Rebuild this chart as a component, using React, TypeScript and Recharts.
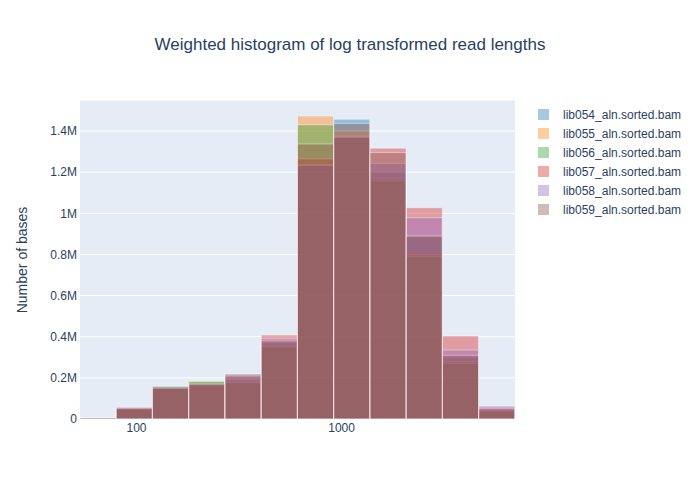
import React from "react";
import {
  BarChart,
  Bar,
  XAxis,
  YAxis,
  CartesianGrid,
  Legend,
} from "recharts";

// lower edge of each bin (read length), bins are equal width in log space
const binStart = [53, 80, 120, 180, 270, 406, 610, 916, 1376, 2067, 3105, 4664];
const binEnd = 7006;

const lib054 = [5000, 56000, 161000, 178000, 190000, 370000, 1230000, 1457000, 1199000, 885000, 300000, 45000];
const lib055 = [4000, 53000, 152000, 180000, 178000, 355000, 1473000, 1400000, 1170000, 800000, 280000, 40000];
const lib056 = [4000, 52000, 158000, 183000, 177000, 352000, 1430000, 1368000, 1158000, 789000, 270000, 38000];
const lib057 = [5000, 55000, 148000, 165000, 205000, 408000, 1265000, 1370000, 1317000, 1027000, 404000, 55000];
const lib058 = [6000, 57000, 150000, 168000, 210000, 390000, 1235000, 1375000, 1243000, 979000, 335000, 63000];
const lib059 = [5000, 50000, 155000, 172000, 219000, 380000, 1337000, 1437000, 1295000, 890000, 310000, 50000];

const xTicks = [100, 1000];
const yTicks = [0, 200000, 400000, 600000, 800000, 1000000, 1200000, 1400000];

const series = [
  { key: "lib054", name: "lib054_aln.sorted.bam", color: "#1f77b4", values: lib054 },
  { key: "lib055", name: "lib055_aln.sorted.bam", color: "#ff7f0e", values: lib055 },
  { key: "lib056", name: "lib056_aln.sorted.bam", color: "#2ca02c", values: lib056 },
  { key: "lib057", name: "lib057_aln.sorted.bam", color: "#d62728", values: lib057 },
  { key: "lib058", name: "lib058_aln.sorted.bam", color: "#9467bd", values: lib058 },
  { key: "lib059", name: "lib059_aln.sorted.bam", color: "#8c564b", values: lib059 },
];

const data = binStart.map((b, i) => {
  const row: Record<string, number> = { bin: b };
  series.forEach((s) => {
    row[s.key] = s.values[i];
  });
  return row;
});

const FONT = "'Liberation Sans', Arial, sans-serif";
const TEXT = "#2a3f5f";

function fmtY(v: number) {
  if (v === 0) return "0";
  return v / 1e6 + "M";
}

function LegendBox() {
  return (
    <div style={{ fontFamily: FONT, fontSize: 12, color: TEXT }}>
      {series.map((s) => (
        <div key={s.key} style={{ display: "flex", alignItems: "center", height: 19 }}>
          <div
            style={{
              marginLeft: 8,
              width: 11,
              height: 11,
              background: s.color,
              opacity: 0.4,
            }}
          />
          <span style={{ marginLeft: 14, whiteSpace: "nowrap" }}>{s.name}</span>
        </div>
      ))}
    </div>
  );
}

export default function App() {
  return (
    <div style={{ position: "absolute", left: 0, top: 0, width: 700, height: 500, background: "#fff" }}>
      <div
        style={{
          position: "absolute",
          left: 0,
          top: 34,
          width: 700,
          textAlign: "center",
          fontFamily: FONT,
          fontSize: 17,
          lineHeight: "22px",
          color: TEXT,
        }}
      >
        Weighted histogram of log transformed read lengths
      </div>
      <BarChart
        width={700}
        height={500}
        data={data}
        margin={{ top: 100, right: 185, bottom: 51, left: 0 }}
        barCategoryGap={0}
        style={{ fontFamily: FONT }}
      >
        {/* visible log axis first, so the hidden category axes don't push it down */}
        <XAxis
          xAxisId="log"
          dataKey="bin"
          type="number"
          scale="log"
          domain={[binStart[0], binEnd]}
          allowDataOverflow
          ticks={xTicks}
          tickLine={false}
          axisLine={false}
          tickSize={0}
          tickMargin={4}
          height={30}
          tick={{ fill: TEXT, fontSize: 12 }}
        />
        {/* one hidden category axis per series so the bars overlay */}
        {series.map((s, i) => (
          <XAxis key={s.key} xAxisId={i} dataKey="bin" type="category" hide height={0} />
        ))}
        <CartesianGrid vertical={false} stroke="#fff" strokeWidth={1} fill="#E5ECF6" fillOpacity={1} />
        <YAxis
          width={80}
          domain={[0, 1551000]}
          ticks={yTicks}
          tickFormatter={fmtY}
          tickLine={false}
          axisLine={false}
          tickSize={0}
          tickMargin={3}
          tick={{ fill: TEXT, fontSize: 12 }}
          label={{
            content: () => (
              <text
                x={22}
                y={260}
                transform="rotate(-90, 22, 260)"
                textAnchor="middle"
                dominantBaseline="central"
                fill={TEXT}
                fontSize={14}
                fontFamily={FONT}
              >
                Number of bases
              </text>
            ),
          }}
        />
        <Legend
          layout="vertical"
          align="center"
          verticalAlign="middle"
          content={() => <LegendBox />}
          wrapperStyle={{ left: 530, top: 105, width: 170 }}
        />
        {series.map((s, i) => (
          <Bar
            key={s.key}
            xAxisId={i}
            dataKey={s.key}
            name={s.name}
            fill={s.color}
            fillOpacity={0.4}
            stroke="#fff"
            strokeOpacity={0.4}
            strokeWidth={1}
            isAnimationActive={false}
          />
        ))}
      </BarChart>
    </div>
  );
}
